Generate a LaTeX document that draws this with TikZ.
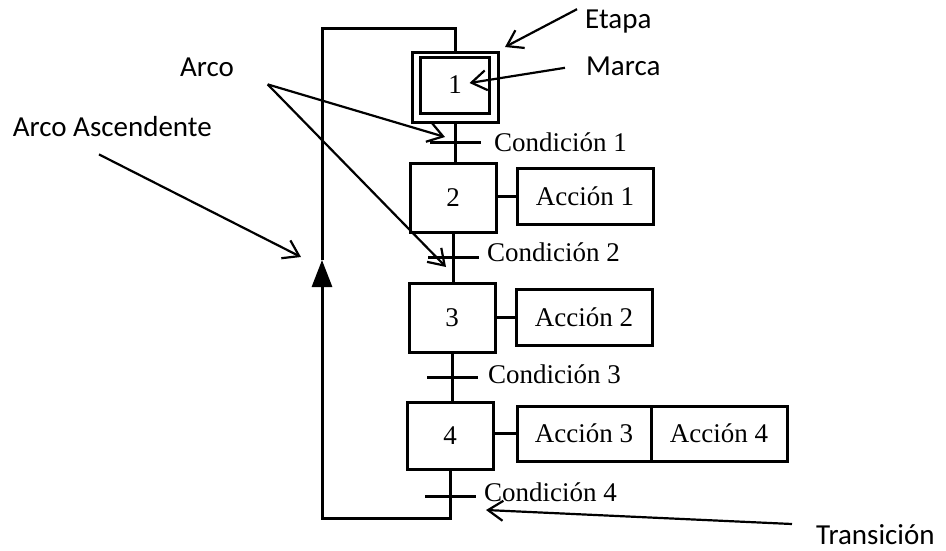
\documentclass[tikz,border=0pt]{standalone}
\usepackage{fontspec}
\setmainfont{Liberation Serif}
\newfontfamily\calloutfont{Carlito}
\usetikzlibrary{arrows.meta,calc}
\begin{document}
\begin{tikzpicture}[x=1pt,y=-1pt,
  stepbox/.style={draw, line width=3pt, minimum width=86pt, minimum height=69pt,
    inner sep=0pt, font=\fontsize{27}{31}\selectfont},
  actbox/.style={draw, line width=3pt, minimum width=136pt, minimum height=56pt,
    inner sep=0pt, font=\fontsize{27}{31}\selectfont},
  flow/.style={line width=3pt},
  tickmark/.style={line width=3pt},
  cond/.style={anchor=base west, inner sep=0pt, font=\fontsize{27}{31}\selectfont},
  callout/.style={anchor=base west, inner sep=0pt, font=\calloutfont\fontsize{29}{34}\selectfont},
  pointer/.style={line width=2.2pt, -{Straight Barb[length=15pt,width=20pt]}},
]
\useasboundingbox (0,0) rectangle (946,550);

% steps of the chart
\node[stepbox, minimum width=86pt, minimum height=70pt] (s1) at (455,87) {};
\node[stepbox, minimum width=69pt, minimum height=56pt] (s1in) at (455,85) {1};
\node[stepbox] (s2) at (453,197.5) {2};
\node[stepbox] (s3) at (452,317.5) {3};
\node[stepbox, minimum height=67pt] (s4) at (450,435.5) {4};

% actions attached to the steps
\node[actbox] (a1) at (585,196) {Acción 1};
\node[actbox] (a2) at (584,317) {Acción 2};
\node[actbox, minimum width=134pt, minimum height=55pt] (a3) at (584,433.5) {Acción 3};
\node[actbox, minimum height=55pt] (a4) at (719,433.5) {Acción 4};

\draw[flow] (a1.west) -- (a1.west -| s2.east);
\draw[flow] (a2.west) -- (a2.west -| s3.east);
\draw[flow] (a3.west) -- (a3.west -| s4.east);

% vertical links and transitions
\draw[flow] (s1.south) -- (s1.south |- s2.north);
\draw[flow] (s2.south) -- (s2.south |- s3.north);
\draw[flow] (s3.south) -- (s3.south |- s4.north);

\coordinate (t1) at ($(s1.south)!0.5!(s1.south |- s2.north)$);
\coordinate (t2) at ($(s2.south)!0.5!(s2.south |- s3.north)$);
\coordinate (t3) at ($(s3.south)!0.5!(s3.south |- s4.north)$);
\coordinate (t4) at ($(s4.south)+(0,26)$);

\foreach \t in {t1,t2,t3,t4}
  \draw[tickmark] ([xshift=-25pt]\t) -- ([xshift=26pt]\t);

\node[cond] (c1) at ($(t1)+(39,9)$) {Condición 1};
\node[cond] (c2) at ($(t2)+(34,4)$) {Condición 2};
\node[cond] (c3) at ($(t3)+(36,6)$) {Condición 3};
\node[cond] (c4) at ($(t4)+(34,5)$) {Condición 4};

% return loop with its upward arrow
\coordinate (loopbl) at (322,518);
\coordinate (looptl) at (322,28);
\coordinate (up) at (322,260);
\draw[flow, -{Triangle[length=27pt,width=20pt]}]
  (s4.south) -- (s4.south |- loopbl) -- (loopbl) -- (up);
\draw[flow] (up) -- (looptl) -- (looptl -| s1.north) -- (s1.north);

% callout labels
\node[callout] (etapa) at (585,28) {Etapa};
\node[callout] (marca) at (586,75) {Marca};
\node[callout] (arco) at (180,76) {Arco};
\node[callout] (arcoasc) at (12.7,136) {Arco Ascendente};
\node[callout] (trans) at (816,544) {Transición};

\draw[pointer] ([xshift=-8pt]etapa.north west) -- ([shift={(5.5,-3.5)}]s1.north east);
\draw[pointer] ([shift={(-21,2)}]marca.west) -- ([shift={(14.5,-2)}]s1in.center);
\draw[pointer] ([shift={(33.5,8)}]arco.south east) -- ([shift={(-10,-5.5)}]t1);
\draw[pointer] ([shift={(33.5,8)}]arco.south east) -- ([shift={(-7,9.5)}]t2);
\draw[pointer] ([shift={(86.3,18)}]arcoasc.south west) -- ([shift={(-21,-3)}]up);
\draw[pointer] ([shift={(-24,-20)}]trans.base west) -- ([shift={(36,13.5)}]t4);
\end{tikzpicture}
\end{document}
